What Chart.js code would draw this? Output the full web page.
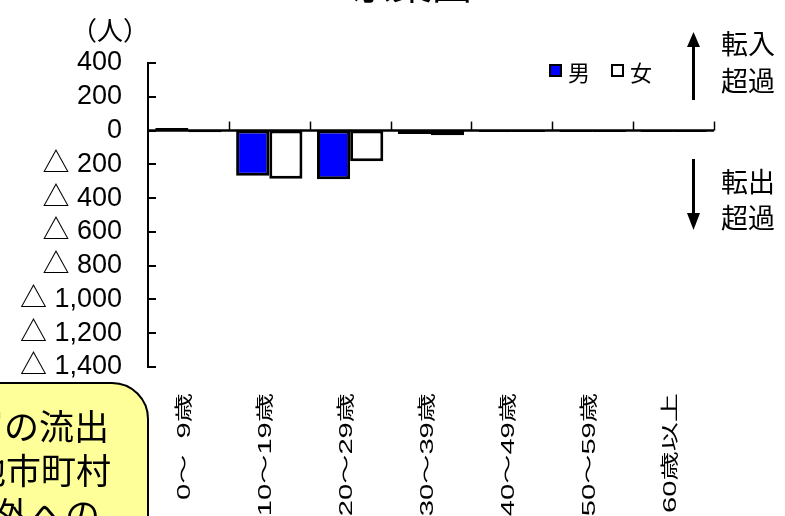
<!DOCTYPE html>
<html>
<head>
<meta charset="utf-8">
<script src="https://cdn.jsdelivr.net/npm/chart.js@4.4.1/dist/chart.umd.min.js"></script>
<style>
  html, body { margin: 0; padding: 0; background: #fff; overflow: hidden; }
  #c { display: block; }
</style>
</head>
<body>
<canvas id="c" width="785" height="516"></canvas>
<script>
// Age groups on the category axis
const categories = ['0～  9歳', '10～19歳', '20～29歳', '30～39歳', '40～49歳', '50～59歳', '60歳以上'];
// Net migration (persons); negative = net outflow
const maleValues   = [15, -268, -288, -20, -8, -8, -8];
const femaleValues = [-10, -286, -182, -28, -8, -8, -8];
const seriesNames  = ['男', '女'];
// Value axis range
const yMin = -1400;
const yMax = 400;
const yStep = 200;

const titleText = '京葉圏';
const unitText = '（人）';
const noteLines = ['若年層の流出', '県内他市町村', '県外への'];

const cjk = '"Noto Sans CJK JP", sans-serif';
const latin = '"Liberation Sans", "Noto Sans CJK JP", sans-serif';

function formatTick(v) {
  if (v < 0) return '△ ' + Math.abs(v).toLocaleString('en-US');
  return String(v);
}

// Inward ticks on the value axis, zero line and category dividers
const axisMarks = {
  id: 'axisMarks',
  afterDatasetsDraw(chart) {
    const { ctx, scales: { x, y } } = chart;
    ctx.save();
    ctx.strokeStyle = '#000';
    ctx.lineWidth = 2;
    y.ticks.forEach(t => {
      const py = Math.round(y.getPixelForValue(t.value));
      ctx.beginPath();
      ctx.moveTo(x.left, py);
      ctx.lineTo(x.left + 8, py);
      ctx.stroke();
    });
    const y0 = y.getPixelForValue(0);
    ctx.lineWidth = 2.5;
    ctx.beginPath();
    ctx.moveTo(x.left, y0);
    ctx.lineTo(x.right, y0);
    ctx.stroke();
    ctx.lineWidth = 1.5;
    for (let i = 0; i < categories.length; i++) {
      const px = Math.round(x.getPixelForValue(i + 0.5)) + 0.5;
      ctx.beginPath();
      ctx.moveTo(px, y0);
      ctx.lineTo(px, y0 - 9);
      ctx.stroke();
    }
    ctx.restore();
  }
};

// Vertical, horizontally stretched category labels
const categoryLabels = {
  id: 'categoryLabels',
  afterDraw(chart) {
    const { ctx, scales: { x } } = chart;
    ctx.save();
    ctx.font = '18px ' + latin;
    ctx.fillStyle = '#000';
    ctx.textAlign = 'right';
    ctx.textBaseline = 'middle';
    chart.data.labels.forEach((lab, i) => {
      ctx.save();
      ctx.translate(x.getPixelForTick(i) - 3, x.top + 26);
      ctx.rotate(-Math.PI / 2);
      ctx.scale(1.62, 1);
      ctx.fillText(x.getLabelForValue(i), 0, 0);
      ctx.restore();
    });
    ctx.restore();
  }
};

// Legend, title, unit label, inflow/outflow notes and the callout box
const decorations = {
  id: 'decorations',
  afterDraw(chart) {
    const { ctx } = chart;
    ctx.save();
    ctx.fillStyle = '#000';

    // title (top edge of the page)
    ctx.font = '40px ' + cjk;
    ctx.textAlign = 'center';
    ctx.textBaseline = 'ideographic';
    ctx.fillText(titleText, 412, 4);

    // unit
    ctx.font = '26px ' + cjk;
    ctx.textBaseline = 'middle';
    ctx.fillText(unitText, 110, 30);

    // legend
    const ds = chart.data.datasets;
    const legendX = [550, 612];
    ctx.font = '22px ' + cjk;
    ctx.textAlign = 'left';
    ds.forEach((d, i) => {
      ctx.fillStyle = d.backgroundColor;
      ctx.fillRect(legendX[i], 65, 11, 11);
      ctx.strokeStyle = '#000';
      ctx.lineWidth = 2;
      ctx.strokeRect(legendX[i], 65, 11, 11);
      ctx.fillStyle = '#000';
      ctx.fillText(d.label, legendX[i] + 18, 73);
    });

    // arrows
    ctx.fillStyle = '#000';
    ctx.fillRect(692, 45, 3, 55);
    ctx.beginPath();
    ctx.moveTo(693.5, 32); ctx.lineTo(687, 47); ctx.lineTo(700, 47); ctx.closePath();
    ctx.fill();
    ctx.fillRect(692, 159, 3, 56);
    ctx.beginPath();
    ctx.moveTo(693.5, 230); ctx.lineTo(687, 213); ctx.lineTo(700, 213); ctx.closePath();
    ctx.fill();

    // notes
    ctx.font = '27px ' + cjk;
    ctx.fillText('転入', 721, 44);
    ctx.fillText('超過', 721, 81);
    ctx.fillText('転出', 721, 182);
    ctx.fillText('超過', 721, 218);

    // callout box
    const r = 36, bx = 148, by = 383;
    ctx.beginPath();
    ctx.moveTo(-10, by);
    ctx.lineTo(bx - r, by);
    ctx.arcTo(bx, by, bx, by + r, r);
    ctx.lineTo(bx, 540);
    ctx.lineTo(-10, 540);
    ctx.closePath();
    ctx.fillStyle = '#FFFF99';
    ctx.fill();
    ctx.strokeStyle = '#000';
    ctx.lineWidth = 2;
    ctx.stroke();
    ctx.fillStyle = '#000';
    ctx.font = '35px ' + cjk;
    ctx.textAlign = 'right';
    ctx.textBaseline = 'middle';
    const noteRight = [109, 111, 100];
    noteLines.forEach((t, i) => ctx.fillText(t, noteRight[i], 427 + i * 44));
    ctx.restore();
  }
};

new Chart(document.getElementById('c'), {
  type: 'bar',
  data: {
    labels: categories,
    datasets: [
      {
        label: seriesNames[0],
        data: maleValues,
        backgroundColor: '#0000FF',
        borderColor: '#000',
        borderWidth: 3,
        borderSkipped: false
      },
      {
        label: seriesNames[1],
        data: femaleValues,
        backgroundColor: '#FFFFFF',
        borderColor: '#000',
        borderWidth: 3,
        borderSkipped: false
      }
    ]
  },
  options: {
    responsive: false,
    devicePixelRatio: 1,
    animation: false,
    layout: { padding: { top: 63, right: 71, left: 0, bottom: 0 } },
    categoryPercentage: 0.82,
    barPercentage: 1.0,
    plugins: {
      legend: { display: false },
      title: { display: false },
      tooltip: { enabled: false }
    },
    scales: {
      x: {
        grid: { display: false, drawTicks: false },
        border: { display: false },
        ticks: { display: false, autoSkip: false },
        afterFit(scale) { scale.height = 149; }
      },
      y: {
        min: yMin,
        max: yMax,
        grid: { display: false, drawTicks: false },
        border: { display: true, color: '#000', width: 2 },
        ticks: {
          stepSize: yStep,
          autoSkip: false,
          padding: 26,
          color: '#000',
          font: { family: latin, size: 27 },
          callback: formatTick
        },
        afterFit(scale) { scale.width = 148; }
      }
    }
  },
  plugins: [axisMarks, categoryLabels, decorations]
});
</script>
</body>
</html>
